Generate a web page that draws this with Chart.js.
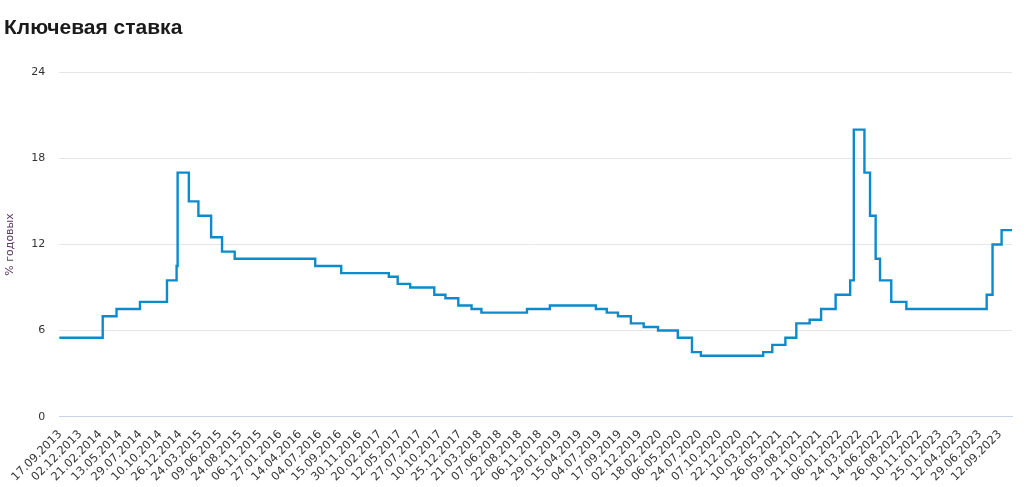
<!DOCTYPE html>
<html>
<head>
<meta charset="utf-8">
<script src="https://cdn.jsdelivr.net/npm/chart.js@4"></script>
<style>
  html, body { margin: 0; padding: 0; background: #fff; }
  #wrap { width: 1029px; height: 487px; position: relative; }
</style>
</head>
<body>
<div id="wrap"><canvas id="chart"></canvas></div>
<script>
const tickDates = [
  "17.09.2013", "02.12.2013", "21.02.2014", "13.05.2014", "29.07.2014", "10.10.2014",
  "26.12.2014", "24.03.2015", "09.06.2015", "24.08.2015", "06.11.2015", "27.01.2016",
  "14.04.2016", "04.07.2016", "15.09.2016", "30.11.2016", "20.02.2017", "12.05.2017",
  "27.07.2017", "10.10.2017", "25.12.2017", "21.03.2018", "07.06.2018", "22.08.2018",
  "06.11.2018", "29.01.2019", "15.04.2019", "04.07.2019", "17.09.2019", "02.12.2019",
  "18.02.2020", "06.05.2020", "24.07.2020", "07.10.2020", "22.12.2020", "10.03.2021",
  "26.05.2021", "09.08.2021", "21.10.2021", "06.01.2022", "24.03.2022", "14.06.2022",
  "26.08.2022", "10.11.2022", "25.01.2023", "12.04.2023", "29.06.2023", "12.09.2023",
];

// dates when the rate changed, and the new rate
const rateDates = [
  "13.09.2013", "03.03.2014", "28.04.2014", "28.07.2014", "05.11.2014", "12.12.2014",
  "16.12.2014", "02.02.2015", "16.03.2015", "05.05.2015", "16.06.2015", "03.08.2015",
  "14.06.2016", "19.09.2016", "27.03.2017", "02.05.2017", "19.06.2017", "18.09.2017",
  "30.10.2017", "18.12.2017", "12.02.2018", "26.03.2018", "17.09.2018", "17.12.2018",
  "17.06.2019", "29.07.2019", "09.09.2019", "28.10.2019", "16.12.2019", "10.02.2020",
  "27.04.2020", "22.06.2020", "27.07.2020", "22.03.2021", "26.04.2021", "15.06.2021",
  "26.07.2021", "13.09.2021", "25.10.2021", "20.12.2021", "14.02.2022", "28.02.2022",
  "11.04.2022", "04.05.2022", "27.05.2022", "14.06.2022", "25.07.2022", "19.09.2022",
  "24.07.2023", "15.08.2023", "18.09.2023", "27.10.2023",
];
const rateValues = [
  5.5, 7.0, 7.5, 8.0, 9.5, 10.5,
  17.0, 15.0, 14.0, 12.5, 11.5, 11.0,
  10.5, 10.0, 9.75, 9.25, 9.0, 8.5,
  8.25, 7.75, 7.5, 7.25, 7.5, 7.75,
  7.5, 7.25, 7.0, 6.5, 6.25, 6.0,
  5.5, 4.5, 4.25, 4.5, 5.0, 5.5,
  6.5, 6.75, 7.5, 8.5, 9.5, 20.0,
  17.0, 14.0, 11.0, 9.5, 8.0, 7.5,
  8.5, 12.0, 13.0, 13.0,
];
const yTicks = [0, 6, 12, 18, 24];

function parseDate(s) {
  const [d, m, y] = s.split(".").map(Number);
  return Date.UTC(y, m - 1, d) / 86400000;
}

// axis labels are evenly spaced, so map a date onto the label index
const tickDays = tickDates.map(parseDate);
function dayToIndex(day) {
  let i = 0;
  if (day >= tickDays[tickDays.length - 1]) i = tickDays.length - 2;
  else while (i < tickDays.length - 2 && day >= tickDays[i + 1]) i++;
  return i + (day - tickDays[i]) / (tickDays[i + 1] - tickDays[i]);
}

const points = rateDates.map((d, i) => ({ x: dayToIndex(parseDate(d)), y: rateValues[i] }));

new Chart(document.getElementById("chart"), {
  type: "line",
  data: {
    datasets: [{
      data: points,
      stepped: "before",
      borderColor: "#0b8bcc",
      borderWidth: 2.4,
      pointRadius: 0,
      fill: false,
    }],
  },
  options: {
    responsive: true,
    maintainAspectRatio: false,
    animation: false,
    layout: { padding: { left: 4, right: 17, top: 4, bottom: 0 } },
    plugins: {
      legend: { display: false },
      tooltip: { enabled: false },
      title: {
        display: true,
        text: "Ключевая ставка",
        align: "start",
        color: "#1a1a1a",
        font: { family: "Liberation Sans", size: 21, weight: "bold" },
        padding: { top: 12, bottom: 31 },
      },
    },
    scales: {
      x: {
        type: "linear",
        min: points[0].x,
        max: points[points.length - 1].x,
        afterBuildTicks: (axis) => { axis.ticks = tickDates.map((_, i) => ({ value: i })); },
        ticks: {
          autoSkip: false,
          minRotation: 45,
          maxRotation: 45,
          color: "#333",
          font: { family: "DejaVu Sans", size: 11.5 },
          callback: (v) => tickDates[v],
        },
        grid: { display: false },
        border: { color: "#c8d4e8" },
      },
      y: {
        min: 0,
        max: 24,
        afterBuildTicks: (axis) => { axis.ticks = yTicks.map((v) => ({ value: v })); },
        ticks: { color: "#333", font: { family: "DejaVu Sans", size: 11 }, padding: 14 },
        grid: { color: (c) => (c.tick.value === 0 ? "#c8d4e8" : "#e6e6e6"), drawTicks: false },
        border: { display: false },
        title: {
          display: true,
          text: "% годовых",
          color: "#5a3a5e",
          font: { family: "DejaVu Sans", size: 11 },
          padding: { top: 0, bottom: 0 },
        },
      },
    },
  },
});
</script>
</body>
</html>
